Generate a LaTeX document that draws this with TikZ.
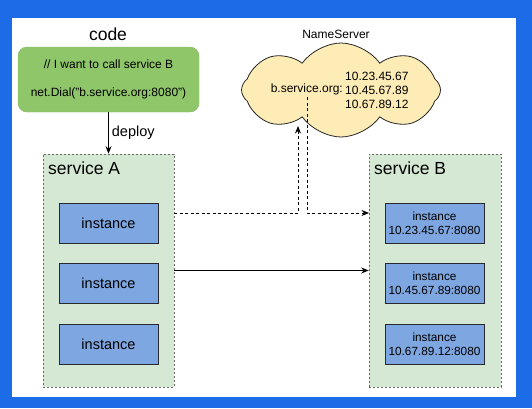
\documentclass[tikz,border=0pt]{standalone}
\usepackage{fontspec}
\setmainfont{Liberation Sans}
\usetikzlibrary{shapes.symbols,arrows.meta}
\definecolor{bgblue}{RGB}{28,108,232}
\definecolor{codegreen}{RGB}{143,198,106}
\definecolor{codeedge}{RGB}{130,186,96}
\definecolor{svcfill}{RGB}{213,232,212}
\definecolor{svcedge}{RGB}{105,105,105}
\definecolor{instfill}{RGB}{126,166,224}
\definecolor{instedge}{RGB}{40,40,50}
\definecolor{cloudfill}{RGB}{253,236,182}
\definecolor{cloudedge}{RGB}{40,40,40}
\begin{document}
\begin{tikzpicture}[x=1pt,y=-1pt,
  codebox/.style={draw=codeedge,fill=codegreen,rounded corners=9pt,minimum width=181pt,minimum height=65pt,inner sep=0pt,align=center,font=\fontsize{12}{28}\selectfont},
  svcbox/.style={draw=svcedge,fill=svcfill,dash pattern=on 2pt off 2pt,line width=0.7pt,minimum height=233pt,inner sep=0pt},
  svclabel/.style={anchor=west,inner sep=0pt,font=\fontsize{17.5}{20}\selectfont},
  instA/.style={draw=instedge,fill=instfill,line width=0.9pt,minimum width=99pt,minimum height=40pt,inner sep=0pt,font=\fontsize{14.5}{16}\selectfont},
  instB/.style={draw=instedge,fill=instfill,line width=0.9pt,minimum width=99pt,minimum height=40pt,inner sep=0pt,align=center,font=\fontsize{11.8}{14}\selectfont},
  small/.style={inner sep=0pt,font=\fontsize{12}{14}\selectfont},
  conn/.style={line width=0.8pt,-{Stealth[length=7.5pt,width=6pt]}},
  dconn/.style={conn,dash pattern=on 3pt off 2.5pt}
]
\fill[bgblue] (0,0) rectangle (532,408);
\fill[white] (12,18) rectangle (516,397);

% code
\node[inner sep=0pt,font=\fontsize{17.5}{20}\selectfont] (codetitle) at (108,34) {code};
\node[codebox] (code) at (108.5,79.5) {// I want to call service B\\net.Dial("b.service.org:8080")};

% services
\node[svcbox,minimum width=131pt] (svcA) at (108.5,270.5) {};
\node[svclabel] (labA) at (48,168) {service A};
\node[svcbox,minimum width=132pt] (svcB) at (435,270.5) {};
\node[svclabel] (labB) at (374,168) {service B};

\draw[conn] (code.south) -- (svcA.north) node[midway,right=3pt,inner sep=0pt,font=\fontsize{14.5}{16}\selectfont] (deploy) {deploy};

% instances A
\node[instA] (a1) at (108.5,223) {instance};
\node[instA] (a2) at (108.5,283) {instance};
\node[instA] (a3) at (108.5,344) {instance};

% instances B
\node[instB] (b1) at (434.5,223) {instance\\10.23.45.67:8080};
\node[instB] (b2) at (434.5,283) {instance\\10.45.67.89:8080};
\node[instB] (b3) at (434.5,344) {instance\\10.67.89.12:8080};

% name server
\node[small] (nstitle) at (336,34) {NameServer};
\node[cloud,cloud puffs=8,cloud puff arc=110,aspect=2.1,draw=cloudedge,fill=cloudfill,line width=0.8pt,minimum width=199pt,minimum height=94pt,inner sep=0pt] (ns) at (341,90) {};
\node[small,anchor=east] (host) at (343,89.5) {b.service.org:};
\node[small,anchor=west] (ip1) at (345,76) {10.23.45.67};
\node[small,anchor=west] (ip2) at (345,90) {10.45.67.89};
\node[small,anchor=west] (ip3) at (345,104) {10.67.89.12};

% connectors
\coordinate (outA) at (174,213);
\coordinate (nsin) at (298,126);
\coordinate (nsout) at (307,97);
\coordinate (inB) at (369,213);
\draw[dconn] (outA) -| (nsin);
\draw[dconn] (nsout) |- (inB);
\draw[conn] (svcA.east) -- (svcB.west);
\end{tikzpicture}
\end{document}
